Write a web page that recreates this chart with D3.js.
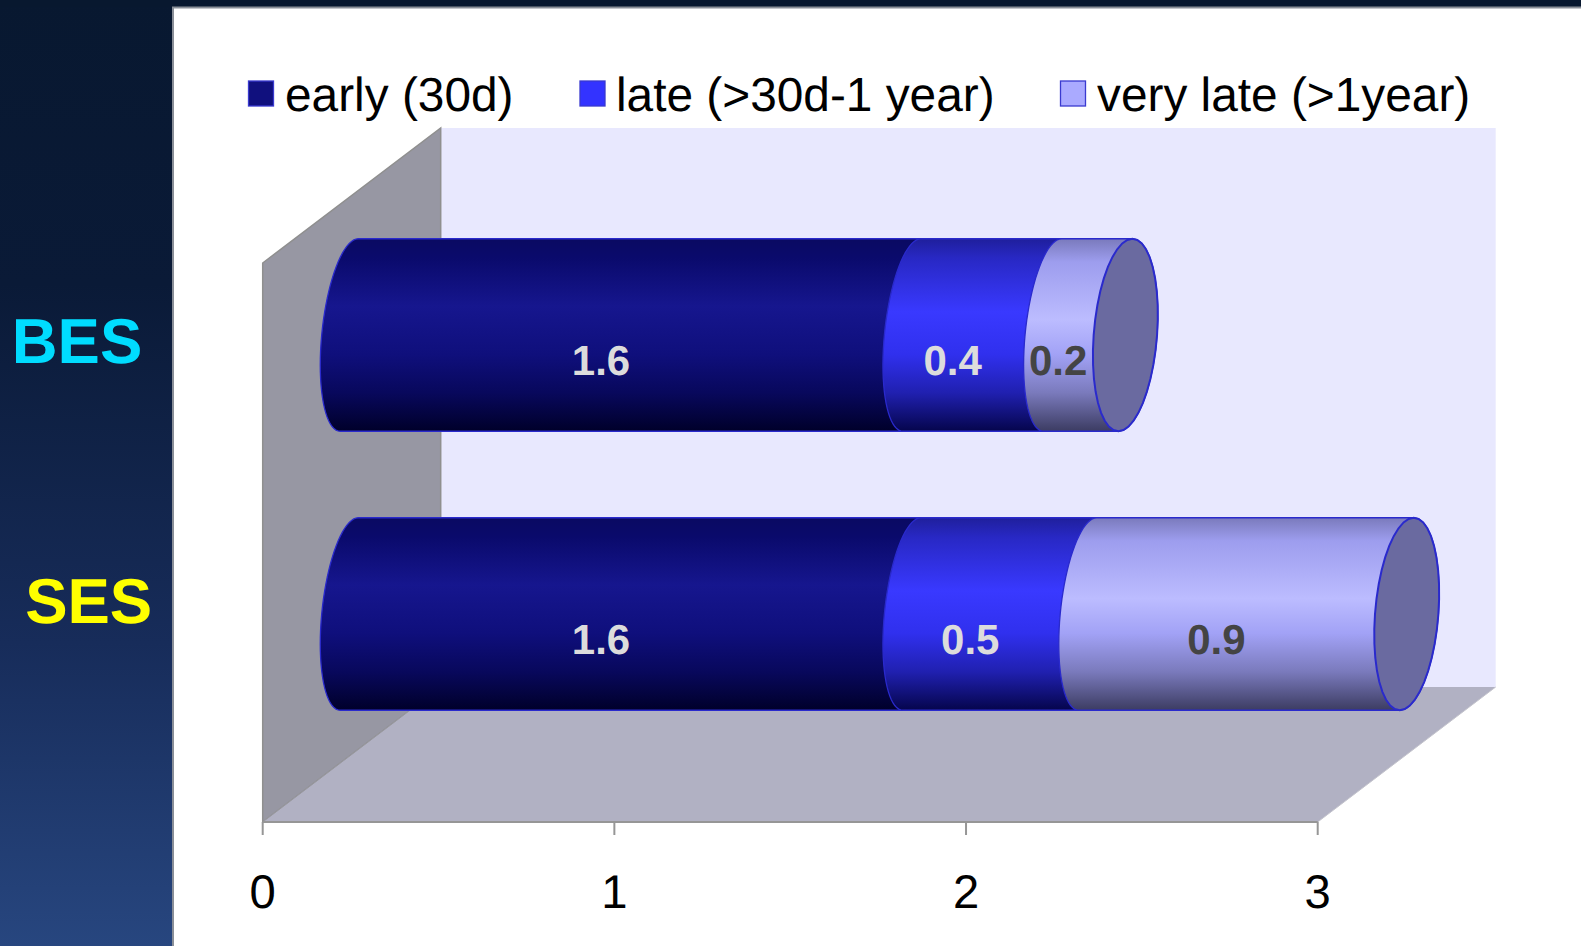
<!DOCTYPE html>
<html>
<head>
<meta charset="utf-8">
<style>
html, body { margin: 0; padding: 0; background: #fff; overflow: hidden; }
svg { display: block; font-family: "Liberation Sans", Arial, sans-serif; text-rendering: geometricPrecision; }
.tick text { font-size: 47.2px; fill: #000; }
</style>
</head>
<body>
<svg width="1581" height="946"></svg>
<script src="https://cdn.jsdelivr.net/npm/d3@7"></script>
<script>

var categories = ["BES", "SES"];
var seriesNames = ["early (30d)", "late (>30d-1 year)", "very late (>1year)"];
var early = [1.6, 1.6];
var late = [0.4, 0.5];
var veryLate = [0.2, 0.9];
var xTicks = [0, 1, 2, 3];

var seriesColors = ["#10107e", "#3333ff", "#aaaaff"];
var labelColors = ["#dcdcdc", "#dcdcdc", "#444444"];
var categoryColors = ["#00dcff", "#ffff00"];

var svg = d3.select("svg");
var defs = svg.append("defs");

// page background
var bg = defs.append("linearGradient").attr("id", "bg")
    .attr("x1", 0).attr("y1", 0).attr("x2", 0).attr("y2", 1);
[[0, "#081830"], [0.3, "#0a1a37"], [0.68, "#172c5a"], [1, "#27467f"]].forEach(function(s) {
    bg.append("stop").attr("offset", s[0]).attr("stop-color", s[1]);
});
svg.append("rect").attr("width", 173).attr("height", 946).attr("fill", "url(#bg)");
svg.append("rect").attr("width", 1581).attr("height", 7).attr("fill", "#08182f");
svg.append("rect").attr("x", 172).attr("y", 7).attr("width", 1409).attr("height", 939)
    .attr("fill", "#fff");
svg.append("path").attr("d", "M173,946V7.5H1581").attr("fill", "none")
    .attr("stroke", "#8a8f98").attr("stroke-width", 2);

// the 3d box: front plane plus a depth offset
var depthX = 178, depthY = -135;
var x = d3.scaleLinear().domain([0, 3]).range([262.7, 1317.7]);
var y = d3.scaleBand().domain(categories).range([263, 821])
    .paddingInner(0.31).paddingOuter(0.155);

var x0 = x.range()[0], x1 = x.range()[1], y0 = 263, y1 = 822;

svg.append("rect").attr("x", x0 + depthX).attr("y", y0 + depthY)
    .attr("width", x1 - x0).attr("height", y1 - y0).attr("fill", "#e8e8fe");

svg.append("path")
    .attr("d", d3.line()([[x0, y0], [x0 + depthX, y0 + depthY], [x0 + depthX, y1 + depthY], [x0, y1]]) + "Z")
    .attr("fill", "#9797a3").attr("stroke", "#8f8f8f").attr("stroke-width", 1.5);

svg.append("path")
    .attr("d", d3.line()([[x0, y1], [x0 + depthX, y1 + depthY], [x1 + depthX, y1 + depthY], [x1, y1]]) + "Z")
    .attr("fill", "#b1b1c3").attr("stroke", "none");
svg.append("path")
    .attr("d", d3.line()([[x0, y1], [x0 + depthX, y1 + depthY]]))
    .attr("fill", "none").attr("stroke", "#98989f").attr("stroke-width", 1);
svg.append("path")
    .attr("d", d3.line()([[x1, y1], [x1 + depthX, y1 + depthY]]))
    .attr("fill", "none").attr("stroke", "#c4c4cc").attr("stroke-width", 1);

// axis
var axis = svg.append("g")
    .attr("transform", "translate(0," + y1 + ")")
    .call(d3.axisBottom(x).tickValues(xTicks).tickFormat(d3.format("d"))
        .tickSize(13).tickSizeOuter(0).tickPadding(39).offset(0));
axis.select(".domain").attr("stroke", "#969696").attr("stroke-width", 2);
axis.selectAll(".tick line").attr("stroke", "#969696").attr("stroke-width", 2);
axis.selectAll(".tick text").attr("font-family", null).attr("font-size", null);

// cylinder gradients
var gradStops = [
    [[0, "#0a0a62"], [0.1, "#0a0a6c"], [0.35, "#16168e"], [0.6, "#0f0f7c"], [0.8, "#08085c"], [1, "#00002a"]],
    [[0, "#1f1f9c"], [0.1, "#2828c4"], [0.38, "#3939ff"], [0.6, "#3030ee"], [0.8, "#2020b0"], [1, "#05054c"]],
    [[0, "#7a7abc"], [0.12, "#9d9dee"], [0.42, "#bcbcff"], [0.6, "#a2a2f6"], [0.8, "#7a7abc"], [1, "#3c3c62"]]
];
gradStops.forEach(function(stops, i) {
    var g = defs.append("linearGradient").attr("id", "cyl" + i)
        .attr("x1", 0).attr("y1", 0).attr("x2", 0).attr("y2", 1);
    stops.forEach(function(s) {
        g.append("stop").attr("offset", s[0]).attr("stop-color", s[1]);
    });
});

// end caps are skewed ellipses
var capA = 31.7, capS = 7;
// the near edge of a segment is rounder than the cap, so it gets its own shape
var nearA = 27.5, nearS = 9, nearShift = -2.5;
var ry = y.bandwidth() / 2;

function capArc(cx, cy, a, s, from, to) {
    return d3.range(0, 41).map(function(i) {
        var t = from + (to - from) * i / 40;
        return [cx + a * Math.cos(t) + s * Math.sin(t), cy - ry * Math.sin(t)];
    });
}

function bodyPath(cxa, cxb, cy) {
    // right half of far end, then left half of near end
    var pts = capArc(cxb, cy, capA, capS, Math.PI / 2, -Math.PI / 2)
        .concat(capArc(cxa + nearShift, cy, nearA, nearS, 3 * Math.PI / 2, Math.PI / 2));
    return d3.line()(pts) + "Z";
}

var stacks = categories.map(function(c, i) {
    var vals = [early[i], late[i], veryLate[i]];
    var sum = 0;
    return vals.map(function(v, j) {
        var seg = {cat: c, j: j, value: v, start: sum, end: sum + v};
        sum += v;
        return seg;
    });
});

var midX = depthX / 2, midY = depthY / 2, labelShift = 32;

var bars = svg.selectAll(".bar").data(stacks).enter().append("g").attr("class", "bar");

bars.selectAll("path.seg")
    .data(function(d) { return d; })
    .enter().append("path")
    .attr("class", "seg")
    .attr("d", function(d) {
        var cy = y(d.cat) + ry + midY;
        return bodyPath(x(d.start) + midX, x(d.end) + midX, cy);
    })
    .attr("fill", function(d) { return "url(#cyl" + d.j + ")"; })
    .attr("stroke", "#2a2acc").attr("stroke-width", 1.3);

bars.append("path")
    .attr("d", function(d) {
        var last = d[d.length - 1];
        var pts = capArc(x(last.end) + midX, y(last.cat) + ry + midY, capA, capS, 0, 2 * Math.PI);
        return d3.line()(pts) + "Z";
    })
    .attr("fill", "#6a6aa0").attr("stroke", "#2a2acc").attr("stroke-width", 2);

bars.selectAll("text")
    .data(function(d) { return d; })
    .enter().append("text")
    .attr("x", function(d) { return x((d.start + d.end) / 2) + midX - labelShift; })
    .attr("y", function(d) { return y(d.cat) + ry + midY + 40; })
    .attr("text-anchor", "middle")
    .attr("font-size", 42).attr("font-weight", "bold")
    .attr("fill", function(d) { return labelColors[d.j]; })
    .text(function(d) { return d.value.toFixed(1); });

// legend
var legendX = [248.5, 580, 1060.5];
var legendTextX = [285, 616, 1097];
var legend = svg.selectAll(".legend").data(seriesNames).enter().append("g").attr("class", "legend");
legend.append("rect")
    .attr("x", function(d, i) { return legendX[i]; })
    .attr("y", 81).attr("width", 25).attr("height", 25)
    .attr("fill", function(d, i) { return seriesColors[i]; })
    .attr("stroke", "#3a3ad0").attr("stroke-width", 1.3);
legend.append("text")
    .attr("x", function(d, i) { return legendTextX[i]; })
    .attr("y", 111)
    .attr("font-size", 47.8).attr("fill", "#000")
    .text(function(d) { return d; });

// category names sit in the dark side bar
var catX = [77, 88.7], catY = [362.5, 622.5];
svg.selectAll(".cat").data(categories).enter().append("text")
    .attr("class", "cat")
    .attr("x", function(d, i) { return catX[i]; })
    .attr("y", function(d, i) { return catY[i]; })
    .attr("text-anchor", "middle")
    .attr("font-size", 63.5).attr("font-weight", "bold")
    .attr("fill", function(d, i) { return categoryColors[i]; })
    .text(function(d) { return d; });

</script>
</body>
</html>
